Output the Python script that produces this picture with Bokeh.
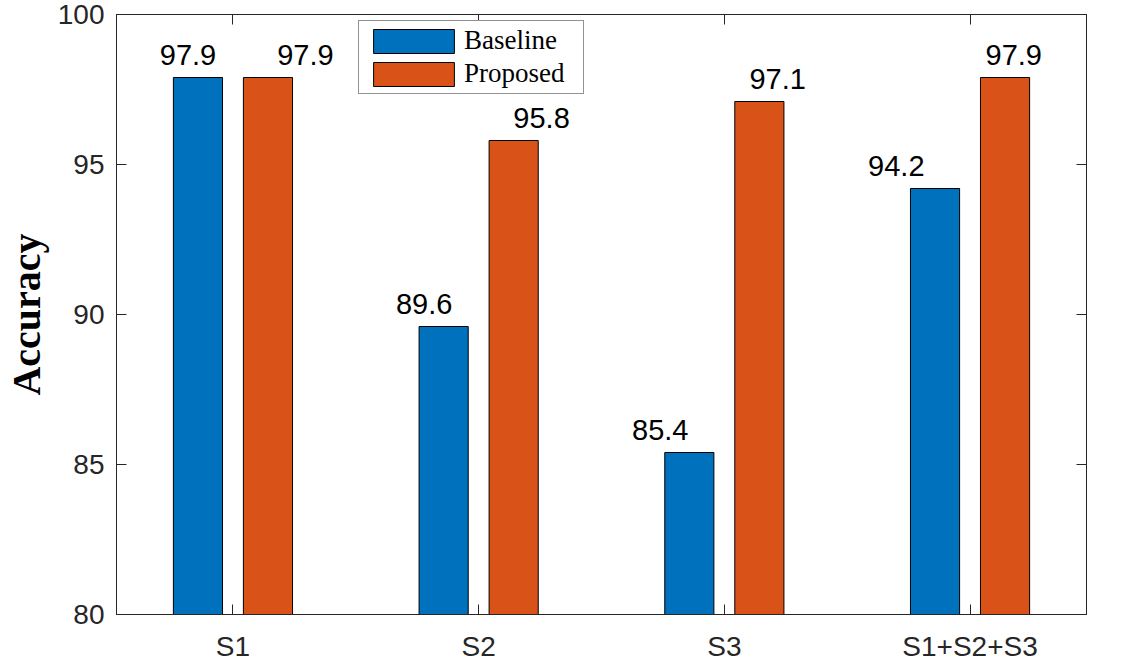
from bokeh.plotting import figure
from bokeh.models import (Range1d, FixedTicker, CustomJSTickFormatter, LinearAxis,
                          Legend, LegendItem, ColumnDataSource)
from bokeh.core.properties import value
from bokeh.embed import file_html
from bokeh.resources import INLINE

# ---- data ----
categories = ["S1", "S2", "S3", "S1+S2+S3"]
baseline = [97.9, 89.6, 85.4, 94.2]
proposed = [97.9, 95.8, 97.1, 97.9]
y_ticks = [80, 85, 90, 95, 100]
series_names = ["Baseline", "Proposed"]
y_title = "Accuracy"

# ---- style ----
BLUE = "#0072BD"
ORANGE = "#D95319"
AX = "#262626"
bar_w = 0.2
bar_off = 0.1425
label_scale = 0.961
blue_label_shift = -0.144
orange_label_shift = 0.334
pad = 0.474
FH = 600

xs = list(range(1, len(categories) + 1))

p = figure(frame_width=970, frame_height=FH,
           min_border_left=116, min_border_right=20, min_border_top=14, min_border_bottom=46,
           output_backend="svg", toolbar_location=None,
           x_range=Range1d(1 - pad, len(categories) + pad),
           y_range=Range1d(y_ticks[0], y_ticks[-1]))
p.xgrid.visible = False
p.ygrid.visible = False
p.outline_line_color = AX
p.outline_line_width = 1
p.background_fill_color = "white"
p.border_fill_color = "white"

src = ColumnDataSource(dict(
    xb=[x - bar_off for x in xs], xp=[x + bar_off for x in xs],
    base=baseline, prop=proposed,
    lb=[x * label_scale + blue_label_shift for x in xs],
    lp=[x * label_scale + orange_label_shift for x in xs],
    tb=[f"{v:.1f}" for v in baseline], tp=[f"{v:.1f}" for v in proposed],
))

rb = p.vbar(x="xb", top="base", bottom=0, width=bar_w, source=src,
            fill_color=BLUE, line_color="black", line_width=1)
rp = p.vbar(x="xp", top="prop", bottom=0, width=bar_w, source=src,
            fill_color=ORANGE, line_color="black", line_width=1)

for xcol, ycol, tcol in (("lb", "base", "tb"), ("lp", "prop", "tp")):
    p.text(x=xcol, y=ycol, text=tcol, source=src, text_align="center",
           text_baseline="alphabetic", y_offset=-23, text_color="black",
           text_font=value("Liberation Sans"), text_font_size="29px")

fmt = CustomJSTickFormatter(args=dict(names=categories),
                            code="return names[Math.round(tick) - 1] || '';")
blank = CustomJSTickFormatter(code="return '';")

def style_axis(ax):
    ax.axis_line_color = AX
    ax.axis_line_width = 1
    ax.major_tick_line_color = AX
    ax.major_tick_line_width = 1
    ax.major_tick_in = 10
    ax.major_tick_out = 0
    ax.minor_tick_line_color = None
    ax.major_label_text_color = AX
    ax.major_label_text_font = "Liberation Sans"
    ax.major_label_text_font_size = "28px"

xa = p.xaxis[0]
xa.ticker = FixedTicker(ticks=xs)
xa.formatter = fmt
style_axis(xa)
xa.major_label_standoff = 16

ya = p.yaxis[0]
ya.ticker = FixedTicker(ticks=y_ticks)
style_axis(ya)
ya.major_label_standoff = 12
ya.axis_label = y_title
ya.axis_label_text_font = "Liberation Serif"
ya.axis_label_text_font_style = "bold"
ya.axis_label_text_font_size = "40px"
ya.axis_label_text_color = "black"
ya.axis_label_standoff = 6

top_ax = LinearAxis(ticker=FixedTicker(ticks=xs), formatter=blank)
style_axis(top_ax)
top_ax.major_label_text_font_size = "1px"
top_ax.major_label_standoff = 0
p.add_layout(top_ax, "above")
right_ax = LinearAxis(ticker=FixedTicker(ticks=y_ticks), formatter=blank)
style_axis(right_ax)
right_ax.major_label_text_font_size = "1px"
right_ax.major_label_standoff = 0
p.add_layout(right_ax, "right")

legend = Legend(items=[LegendItem(label=series_names[0], renderers=[rb]),
                       LegendItem(label=series_names[1], renderers=[rp])],
                location=(242, FH - 8 - 72))
legend.glyph_width = 101
legend.glyph_height = 30
legend.label_width = 115
legend.label_height = 30
legend.label_standoff = -3
legend.padding = 4
legend.spacing = 2
legend.margin = 0
legend.border_line_color = AX
legend.border_line_width = 1
legend.background_fill_alpha = 1
legend.label_text_font = "Liberation Serif"
legend.label_text_font_size = "27px"
legend.label_text_color = "black"
p.add_layout(legend)

open("out.html", "w").write(file_html(p, INLINE))
